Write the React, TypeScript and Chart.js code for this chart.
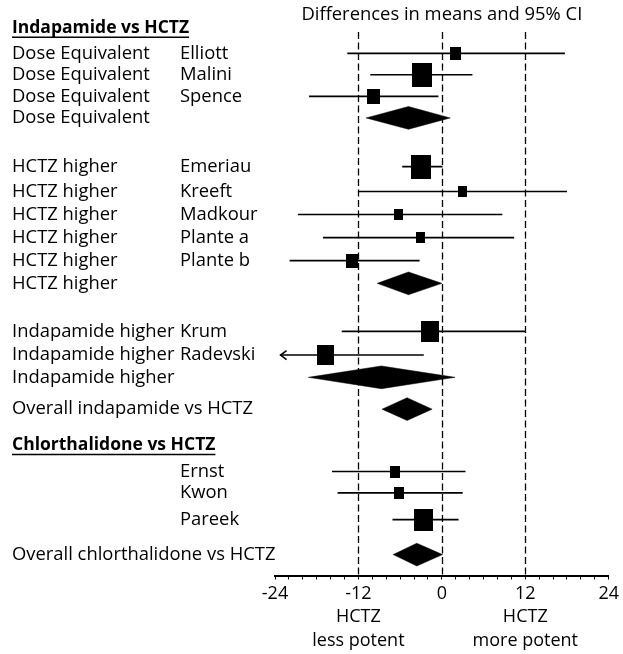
import React, { useEffect, useRef } from "react";
import { Chart, registerables } from "chart.js";

Chart.register(...registerables);

const FONT = "'Open Sans', sans-serif";

// ---------- data ----------
const titleText = "Differences in means and 95% CI";
const xMin = -24;
const xMax = 24;
const refLines = [-12, 0, 12];

const sectionHeaders = ["Indapamide vs HCTZ", "Chlorthalidone vs HCTZ"];
const sectionRows = [-0.11, 17.88];

const studyNames = ["Elliott", "Malini", "Spence", "Emeriau", "Kreeft", "Madkour", "Plante a", "Plante b", "Krum", "Radevski", "Ernst", "Kwon", "Pareek"];
const studyGroups = [
  "Dose Equivalent", "Dose Equivalent", "Dose Equivalent",
  "HCTZ higher", "HCTZ higher", "HCTZ higher", "HCTZ higher", "HCTZ higher",
  "Indapamide higher", "Indapamide higher",
  "", "", "",
];
const studyRows = [1, 1.92, 2.85, 5.88, 6.95, 7.94, 8.94, 9.93, 12.98, 14.0, 19.02, 19.94, 21.09];
const studyEst = [1.9, -2.9, -9.9, -3.0, 3.0, -6.2, -3.0, -12.9, -1.7, -16.8, -6.8, -6.2, -2.6];
const studyLo = [-13.6, -10.3, -19.1, -5.7, -12.0, -20.7, -17.1, -21.9, -14.4, -23.2, -15.8, -15.0, -7.1];
const studyHi = [17.7, 4.4, -0.5, 0.1, 18.0, 8.7, 10.4, -3.2, 12.0, -2.6, 3.4, 3.0, 2.4];
const studyWeight = [1.1, 2.0, 1.3, 2.0, 0.9, 0.9, 0.9, 1.2, 1.8, 1.7, 1.0, 1.0, 1.9];
const studyTruncatedLo = [false, false, false, false, false, false, false, false, false, true, false, false, false];

const poolLabels = ["Dose Equivalent", "HCTZ higher", "Indapamide higher", "Overall indapamide vs HCTZ", "Overall chlorthalidone vs HCTZ"];
const poolRows = [3.78, 10.91, 14.96, 16.33, 22.6];
const poolEst = [-4.8, -4.8, -8.7, -5.0, -3.6];
const poolLo = [-10.9, -9.3, -19.2, -8.6, -7.0];
const poolHi = [1.2, 0.0, 1.9, -1.4, 0.1];

const axisNoteAt = [-12, 12];
const axisNotes = [["HCTZ", "less potent"], ["HCTZ", "more potent"]];

// ---------- styling constants ----------
const W = 623;
const H = 654;
const LEFT_COL1 = 12;
const LEFT_COL2 = 180;
const DIAMOND_HALF = 0.49;
const MARK_SCALE = 10;
const MARK_ASPECT = 1.18;

function makeRect(w: number, h: number): HTMLCanvasElement {
  const c = document.createElement("canvas");
  c.width = Math.round(w);
  c.height = Math.round(h);
  const cx = c.getContext("2d")!;
  cx.fillStyle = "#000";
  cx.fillRect(0, 0, c.width, c.height);
  return c;
}

export default function App() {
  const ref = useRef<HTMLCanvasElement | null>(null);

  useEffect(() => {
    const prevMargin = document.body.style.margin;
    document.body.style.margin = "0";
    const canvas = ref.current!;

    const datasets: any[] = [];

    // CI lines
    studyNames.forEach((n, i) => {
      datasets.push({
        type: "scatter",
        label: n + " CI",
        data: [
          { x: studyLo[i], y: studyRows[i] },
          { x: studyHi[i], y: studyRows[i] },
        ],
        showLine: true,
        borderColor: "#000",
        borderWidth: 1.6,
        pointRadius: 0,
        fill: false,
      });
    });

    // pooled diamonds
    poolLabels.forEach((n, i) => {
      const r = poolRows[i];
      datasets.push({
        type: "scatter",
        label: n + " pooled",
        data: [
          { x: poolLo[i], y: r },
          { x: poolEst[i], y: r - DIAMOND_HALF },
          { x: poolHi[i], y: r },
          { x: poolEst[i], y: r + DIAMOND_HALF },
          { x: poolLo[i], y: r },
        ],
        showLine: true,
        borderColor: "#000",
        borderWidth: 0.5,
        backgroundColor: "#000",
        pointRadius: 0,
        fill: "shape",
        tension: 0,
      });
    });

    // point estimates
    const markStyles = studyWeight.map((w) => makeRect(w * MARK_SCALE, w * MARK_SCALE * MARK_ASPECT));
    datasets.push({
      type: "scatter",
      label: "estimates",
      data: studyEst.map((v, i) => ({ x: v, y: studyRows[i] })),
      pointStyle: markStyles,
      pointRadius: 6,
      backgroundColor: "#000",
      borderColor: "#000",
    });

    const textPlugin = {
      id: "forestText",
      beforeDatasetsDraw(chart: any) {
        const ctx = chart.ctx as CanvasRenderingContext2D;
        const xs = chart.scales.x;
        const area = chart.chartArea;
        ctx.save();
        ctx.strokeStyle = "#000";
        ctx.lineWidth = 1.3;
        ctx.setLineDash([7, 3.5]);
        refLines.forEach((v) => {
          const px = Math.round(xs.getPixelForValue(v)) + 0.5;
          ctx.beginPath();
          ctx.moveTo(px, 32);
          ctx.lineTo(px, area.bottom);
          ctx.stroke();
        });
        ctx.restore();
      },
      afterDatasetsDraw(chart: any) {
        const ctx = chart.ctx as CanvasRenderingContext2D;
        const xs = chart.scales.x;
        const ys = chart.scales.y;
        ctx.save();
        ctx.fillStyle = "#000";
        ctx.strokeStyle = "#000";
        ctx.textBaseline = "middle";

        // title
        ctx.font = `18.4px ${FONT}`;
        ctx.textAlign = "center";
        ctx.fillText(titleText, xs.getPixelForValue(0), 15);

        // section headers
        ctx.textAlign = "left";
        ctx.font = `bold 17.5px ${FONT}`;
        sectionHeaders.forEach((t, i) => {
          const y = ys.getPixelForValue(sectionRows[i]);
          ctx.fillText(t, LEFT_COL1, y);
          const w = ctx.measureText(t).width;
          ctx.lineWidth = 1.5;
          ctx.beginPath();
          ctx.moveTo(LEFT_COL1, y + 9.5);
          ctx.lineTo(LEFT_COL1 + w, y + 9.5);
          ctx.stroke();
        });

        // row labels
        ctx.font = `18.4px ${FONT}`;
        studyNames.forEach((n, i) => {
          const y = ys.getPixelForValue(studyRows[i]);
          if (studyGroups[i]) ctx.fillText(studyGroups[i], LEFT_COL1, y);
          ctx.fillText(n, LEFT_COL2, y);
        });
        poolLabels.forEach((n, i) => {
          const y = ys.getPixelForValue(poolRows[i]);
          ctx.fillText(n, LEFT_COL1, y);
        });

        // truncated arrows
        ctx.lineWidth = 1.6;
        studyNames.forEach((n, i) => {
          if (!studyTruncatedLo[i]) return;
          const x = xs.getPixelForValue(studyLo[i]);
          const y = ys.getPixelForValue(studyRows[i]);
          ctx.beginPath();
          ctx.moveTo(x + 6, y - 4.5);
          ctx.lineTo(x, y);
          ctx.lineTo(x + 6, y + 4.5);
          ctx.stroke();
        });

        // axis notes
        ctx.textAlign = "center";
        ctx.font = `18px ${FONT}`;
        axisNoteAt.forEach((v, i) => {
          const x = xs.getPixelForValue(v);
          ctx.fillText(axisNotes[i][0], x, 617);
          ctx.fillText(axisNotes[i][1], x, 641);
        });
        ctx.restore();
      },
    };

    const chart = new Chart(canvas, {
      type: "scatter",
      data: { datasets },
      options: {
        animation: false,
        responsive: false,
        maintainAspectRatio: false,
        layout: { padding: { left: 275, right: 10, top: 2, bottom: 48.5 } },
        plugins: { legend: { display: false }, tooltip: { enabled: false }, title: { display: false } },
        scales: {
          x: {
            type: "linear",
            min: xMin,
            max: xMax,
            afterFit: (s: any) => {
              s.height = 30;
            },
            ticks: {
              stepSize: 2,
              autoSkip: false,
              maxRotation: 0,
              padding: 4,
              color: "#000",
              font: { family: FONT, size: 18 },
              callback: (v: any) => (Number(v) % 12 === 0 ? String(v) : ""),
            },
            grid: { drawOnChartArea: false, drawTicks: true, tickLength: 4, color: "#000", lineWidth: 1 },
            border: { display: true, color: "#000", width: 2 },
          },
          y: {
            type: "linear",
            display: false,
            reverse: true,
            min: -1,
            max: 23.5,
          },
        },
      } as any,
      plugins: [textPlugin],
    });

    return () => {
      chart.destroy();
      document.body.style.margin = prevMargin;
    };
  }, []);

  return (
    <div style={{ position: "fixed", left: 0, top: 0, width: W, height: H, background: "#fff" }}>
      <canvas ref={ref} width={W} height={H} style={{ width: W, height: H, display: "block" }} />
    </div>
  );
}
